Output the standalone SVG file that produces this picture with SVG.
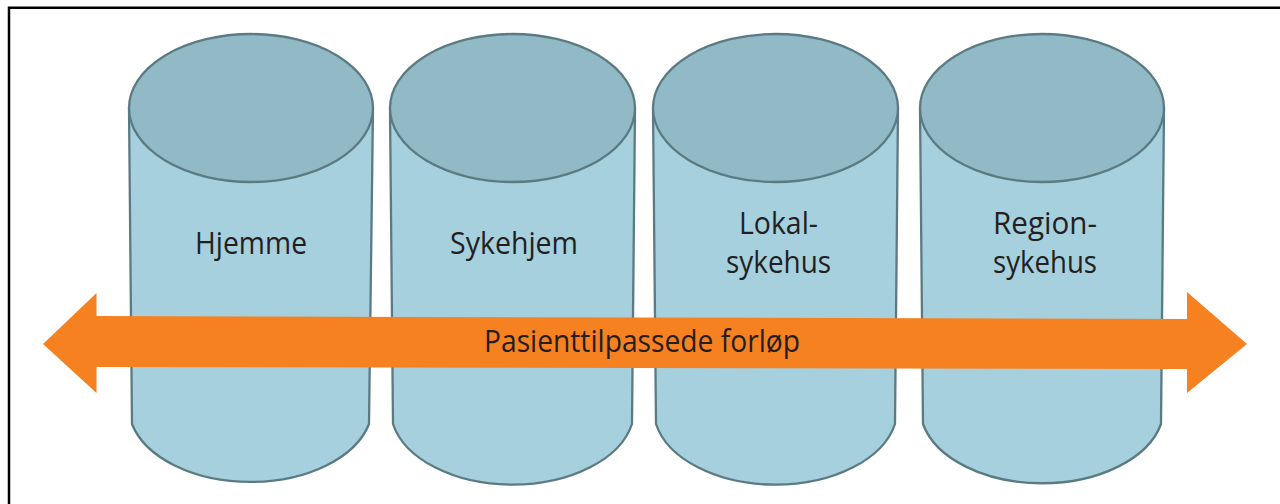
<svg xmlns="http://www.w3.org/2000/svg" width="1280" height="504" viewBox="0 0 1280 504">
  <style>
    .body { fill: #A6D0DD; stroke: #5B7B83; stroke-width: 2.3; stroke-linejoin: round; }
    .top { fill: #92B9C6; stroke: #5B7B83; stroke-width: 2.3; }
    .lbl { font-family: "Open Sans", "Noto Sans", sans-serif; font-size: 31px; fill: #231F20; text-anchor: middle; }
    .frame { fill: none; stroke: #000000; stroke-width: 2.5; }
  </style>
  <rect width="1280" height="504" fill="#FFFFFF"/>
  <path class="frame" d="M9,504 V7.7 H1280"/>

  <g id="node-hjemme">
    <path class="body" d="M129,108 L132,424 A122 76 0 0 0 369,424 L373,108 Z"/>
    <ellipse class="top" cx="251" cy="108" rx="122" ry="74"/>
    <text class="lbl" x="251" y="254" textLength="112" lengthAdjust="spacingAndGlyphs">Hjemme</text>
  </g>

  <g id="node-sykehjem">
    <path class="body" d="M390,108 L393,424 A122 76 0 0 0 632,424 L635,108 Z"/>
    <ellipse class="top" cx="512.5" cy="108" rx="122.5" ry="74"/>
    <text class="lbl" x="514" y="254" textLength="128" lengthAdjust="spacingAndGlyphs">Sykehjem</text>
  </g>

  <g id="node-lokalsykehus">
    <path class="body" d="M653,108 L656,424 A122 76 0 0 0 895,424 L898,108 Z"/>
    <ellipse class="top" cx="775.5" cy="108" rx="122.5" ry="74"/>
    <text class="lbl" x="778.5" y="234" textLength="79" lengthAdjust="spacingAndGlyphs">Lokal-</text>
    <text class="lbl" x="778.5" y="273" textLength="105" lengthAdjust="spacingAndGlyphs">sykehus</text>
  </g>

  <g id="node-regionsykehus">
    <path class="body" d="M920,108 L923,424 A122 76 0 0 0 1161,424 L1164,108 Z"/>
    <ellipse class="top" cx="1042" cy="108" rx="122" ry="74"/>
    <text class="lbl" x="1045" y="234" textLength="104" lengthAdjust="spacingAndGlyphs">Region-</text>
    <text class="lbl" x="1045" y="273" textLength="104" lengthAdjust="spacingAndGlyphs">sykehus</text>
  </g>

  <g id="connectors">
    <polygon fill="#F68121" points="43,344 96.5,293 96.5,316 1187,319 1187,292 1247,344 1187,393 1187,369 96.5,367 96.5,393"/>
    <text class="lbl" x="642" y="352" textLength="316" lengthAdjust="spacingAndGlyphs">Pasienttilpassede forløp</text>
  </g>
</svg>
